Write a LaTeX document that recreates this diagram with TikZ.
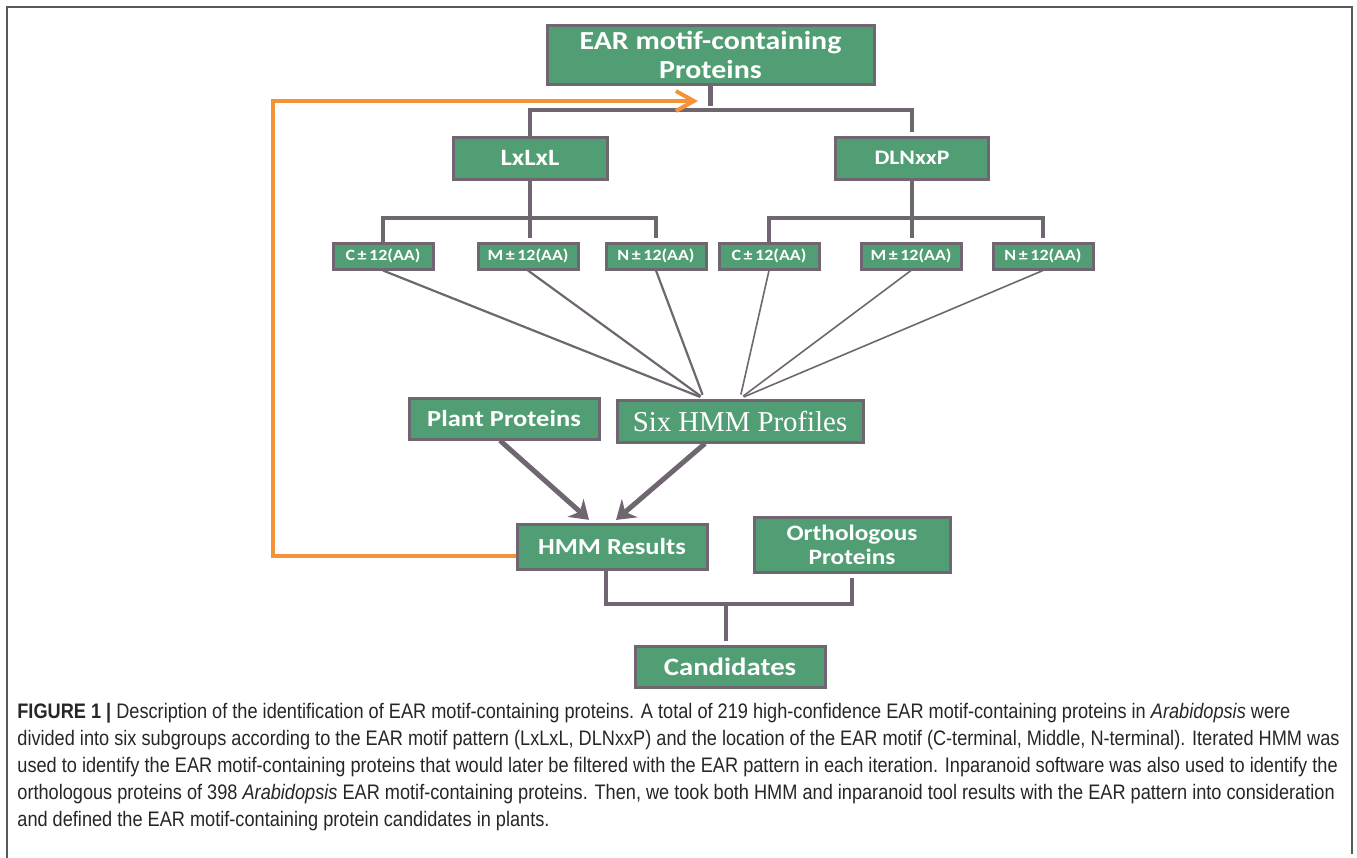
\documentclass[tikz,border=0pt]{standalone}
\usepackage{fontspec}
\usepackage{tikz}
\usetikzlibrary{arrows.meta}
\usetikzlibrary{positioning}
\newfontfamily\boxfont[FakeStretch=1.15]{Carlito}
\newfontfamily\sixfont{Liberation Serif}
\newfontfamily\capfont[FakeStretch=0.865]{Liberation Sans}
\definecolor{boxgreen}{RGB}{82,158,116}
\definecolor{linegray}{RGB}{111,102,113}
\definecolor{looporange}{RGB}{244,146,56}
\tikzset{basic/.style={draw=linegray,line width=1.5pt,fill=boxgreen,text=white,inner sep=0pt,align=center,font=\boxfont\bfseries}}
\tikzset{sub/.style={basic,minimum width=50pt,minimum height=13pt,font=\boxfont\bfseries\fontsize{7.8pt}{9pt}\selectfont}}
\tikzset{tree/.style={draw=linegray,line width=2.2pt}}
\tikzset{fan/.style={draw=linegray,line width=1.1pt}}
\tikzset{feed/.style={draw=linegray,line width=2.5pt,->}}
\tikzset{feedback/.style={draw=looporange,line width=2pt,-{Straight Barb[length=9pt,width=10pt]}}}
\tikzset{caption/.style={align=left,inner sep=0pt,text=black!85,font=\capfont\fontsize{10.5pt}{13.5pt}\selectfont}}

\begin{document}
\begin{tikzpicture}[
x = 0.5pt, y = -0.5pt, % one unit is one pixel of the figure
> = {Stealth[length=9pt,width=12pt]}, % arrow head style
shorten > = 2pt % don't touch arrow head to node
]
\useasboundingbox (0,0) rectangle (1357,858);
\draw[black!65, line width=1pt] (7,858) -- (7,7) -- (1352,7) -- (1352,858);

% motif groups
\node[basic, minimum width=163.5pt, minimum height=29.5pt, font=\boxfont\bfseries\fontsize{13pt}{14.5pt}\selectfont] (ear) at (710.5,54.5) {EAR motif-containing\\Proteins};
\node[basic, minimum width=77pt, minimum height=21pt, font=\boxfont\bfseries\fontsize{11.7pt}{13pt}\selectfont] (lxl) at (530,158) {LxLxL};
\node[basic, minimum width=76.5pt, minimum height=21pt, font=\boxfont\bfseries\fontsize{10.3pt}{12pt}\selectfont] (dln) at (912,158) {DLNxxP};

\node[sub] (c1) at (383,256) {C\,±\,12(AA)};
\node[sub] (m1) at (528,256) {M\,±\,12(AA)};
\node[sub] (n1) at (656,256) {N\,±\,12(AA)};
\node[sub] (c2) at (769,256) {C\,±\,12(AA)};
\node[sub] (m2) at (911,256) {M\,±\,12(AA)};
\node[sub] (n2) at (1043,256) {N\,±\,12(AA)};

% search
\node[basic, minimum width=95pt, minimum height=20.5pt, font=\boxfont\bfseries\fontsize{11.5pt}{13pt}\selectfont] (plant) at (504,418.5) {Plant Proteins};
\node[basic, minimum width=123pt, minimum height=21pt, font=\sixfont\fontsize{14.4pt}{16pt}\selectfont] (six) at (740,421) {Six HMM Profiles};
\node[basic, minimum width=95pt, minimum height=22.5pt, font=\boxfont\bfseries\fontsize{11.5pt}{13pt}\selectfont] (hmm) at (612,546.5) {HMM Results};
\node[basic, minimum width=98pt, minimum height=27.5pt, font=\boxfont\bfseries\fontsize{11pt}{12pt}\selectfont] (orth) at (852,544.5) {Orthologous\\Proteins};
\node[basic, minimum width=95pt, minimum height=20.5pt, font=\boxfont\bfseries\fontsize{12.5pt}{13pt}\selectfont] (cand) at (730,666.5) {Candidates};

\coordinate (bus) at (710.5,110);
\coordinate (lbus) at (530,218);
\coordinate (rbus) at (912,218);
\coordinate (jn) at (726,604);
\coordinate (lp) at (273,101);
\coordinate (fb) at (702,101);

\draw[tree] (ear.south) -- (bus);
\draw[tree] (lxl.north) |- (bus) -| (dln.north);
\draw[tree] (lxl.south) -- (lxl.south |- m1.north);
\draw[tree] (dln.south) -- (dln.south |- m2.north);
\draw[tree] (c1.north) |- (lbus) -| (n1.north);
\draw[tree] (c2.north) |- (rbus) -| (n2.north);

\path[fan] (c1.south) edge ([xshift=-18pt]six.north)
           (m1.south) edge ([xshift=-18pt]six.north)
           (n1.south) edge ([xshift=-18pt]six.north);
\path[fan, line width=0.8pt] (c2.south) edge (six.north)
           (m2.south) edge (six.north)
           (n2.south) edge (six.north);

\path ([xshift=-2pt]plant.south) edge[feed] ([xshift=-10pt]hmm.north)
      ([xshift=-17.5pt]six.south) edge[feed] ([xshift=0.5pt]hmm.north);

\draw[feedback] ([yshift=-4.75pt]hmm.west) -| (lp) -- (fb);

\draw[tree] ([xshift=-3pt]hmm.south) |- (jn) -| (orth.south);
\draw[tree] (jn) -- (jn |- cand.north);

\node[caption, anchor=north west] (capt) at (17,703) {\textbf{FIGURE 1 |} Description of the identification of EAR motif-containing proteins. A total of 219 high-confidence EAR motif-containing proteins in \textit{Arabidopsis} were\\
divided into six subgroups according to the EAR motif pattern (LxLxL, DLNxxP) and the location of the EAR motif (C-terminal, Middle, N-terminal). Iterated HMM was\\
used to identify the EAR motif-containing proteins that would later be filtered with the EAR pattern in each iteration. Inparanoid software was also used to identify the\\
orthologous proteins of 398 \textit{Arabidopsis} EAR motif-containing proteins. Then, we took both HMM and inparanoid tool results with the EAR pattern into consideration\\
and defined the EAR motif-containing protein candidates in plants.};
\end{tikzpicture}
\end{document}
